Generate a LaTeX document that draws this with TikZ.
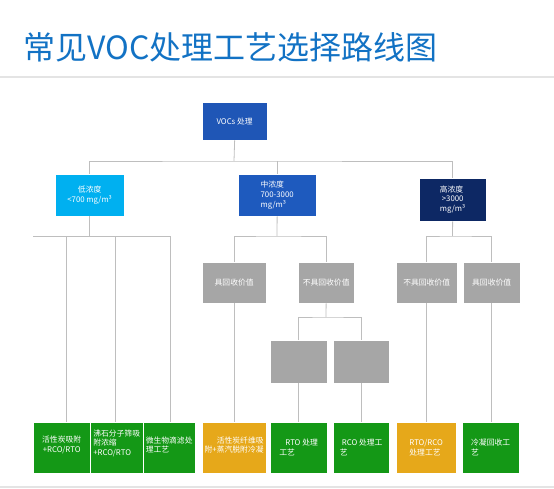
\documentclass[tikz,border=0pt]{standalone}
\usepackage{fontspec}
\newfontfamily\cjk{Noto Sans CJK SC}
\definecolor{titleblue}{RGB}{18,114,196}
\definecolor{topblue}{RGB}{31,86,182}
\definecolor{lowblue}{RGB}{0,176,240}
\definecolor{midblue}{RGB}{30,90,190}
\definecolor{highblue}{RGB}{13,40,100}
\definecolor{boxgrey}{RGB}{166,166,166}
\definecolor{procgreen}{RGB}{20,152,22}
\definecolor{procorange}{RGB}{230,168,26}
\definecolor{linegrey}{RGB}{190,190,190}
\definecolor{sepgrey}{RGB}{228,228,228}
\begin{document}
\begin{tikzpicture}
[x=1pt,y=-1pt,
box/.style={anchor=north west,inner sep=1pt,text=white,draw=white,line width=0.3pt,
  font=\cjk\fontsize{7.8}{9.8}\selectfont},
grey/.style={box,fill=boxgrey,align=center},
proc/.style={box,fill=procgreen,minimum height=51pt,align=left},
hot/.style={box,fill=procorange,minimum height=51pt},
link/.style={draw=linegrey,line width=0.8pt},
sep/.style={draw=sepgrey,line width=2pt}]
\useasboundingbox (0,0) rectangle (554,489);
%title
\node[anchor=west,inner sep=0pt,text=titleblue,font=\cjk\fontsize{32}{38}\selectfont]
  (title) at (23,47) {常见VOC处理工艺选择路线图};
\draw[sep] (0,77) -- (554,77);
\draw[sep] (0,487) -- (554,487);
%levels
\node[box,fill=topblue,minimum width=65pt,minimum height=38pt] (top) at (202,102) {VOCs 处理};
\node[box,fill=lowblue,minimum width=69pt,minimum height=42pt,align=center] (low) at (55,174)
  {低浓度\\<700 mg/m³};
\node[box,fill=midblue,minimum width=78pt,minimum height=42pt,align=left] (mid) at (238,174)
  {中浓度\\700-3000\\mg/m³};
\node[box,fill=highblue,minimum width=67pt,minimum height=43pt,align=left] (high) at (419,178)
  {高浓度\\\hspace*{2pt}>3000\\mg/m³};
%value
\node[grey,minimum width=64pt,minimum height=41pt] (g1) at (202,262) {具回收价值};
\node[grey,minimum width=56pt,minimum height=41pt] (g2) at (298,262) {不具回收价值};
\node[grey,minimum width=61pt,minimum height=41pt] (g3) at (396,262) {不具回收价值};
\node[grey,minimum width=57pt,minimum height=41pt] (g4) at (463,262) {具回收价值};
\node[grey,minimum width=57pt,minimum height=43pt] (g5) at (270,340) {};
\node[grey,minimum width=56pt,minimum height=43pt] (g6) at (333,340) {};
%processes
\node[proc,minimum width=57pt,align=center,text depth=7pt] (p1) at (33,422) {活性炭吸附\\+RCO/RTO};
\node[proc,minimum width=53pt,text depth=10pt] (p2) at (90,422) {沸石分子筛吸\\附浓缩\\+RCO/RTO};
\node[proc,minimum width=52pt,text depth=6pt] (p3) at (143,422) {微生物滴滤处\\理工艺};
\node[hot,minimum width=64pt,align=right,text depth=6pt] (p4) at (202,422) {活性炭纤维吸\\附+蒸汽脱附冷凝};
\node[proc,minimum width=57pt] (p5) at (270,422) {\hspace*{6pt}RTO 处理\\工艺};
\node[proc,minimum width=56pt] (p6) at (333,422) {\hspace*{2pt}RCO 处理工\\艺};
\node[hot,minimum width=60pt,align=left] (p7) at (396,422) {RTO/RCO\\处理工艺};
\node[proc,minimum width=57pt] (p8) at (462,422) {冷凝回收工\\艺};
%links
\coordinate (j0) at (234,161);
\draw[link] (top.south) -- (j0);
\draw[link] (low.north) |- (j0) -| (high.north);
\draw[link] (mid.north) -- (mid.north |- j0);
%low
\coordinate (j1a) at (33,236);
\coordinate (j1b) at (170,236);
\coordinate (d1) at (66,236);
\coordinate (d2) at (115,236);
\coordinate (d3) at (170,236);
\draw[link] (j1a) -- (j1b);
\draw[link] (low.south) -- (low.south |- j1a);
\foreach \d/\p in {d1/p1,d2/p2,d3/p3}
  \draw[link] (\d) -- (\d |- \p.north);
%mid
\coordinate (j2) at (277,236);
\draw[link] (mid.south) -- (j2);
\draw[link] (g1.north) |- (j2) -| (g2.north);
\coordinate (j3) at (326,317);
\draw[link] (g2.south) -- (j3);
\draw[link] (g5.north) |- (j3) -| (g6.north);
%high
\coordinate (j4) at (452.5,236);
\draw[link] (high.south) -- (j4);
\draw[link] (g3.north) |- (j4) -| (g4.north);
\foreach \a/\b in {g1/p4,g5/p5,g6/p6,g3/p7,g4/p8}
  \draw[link] (\a.south) -- (\a.south |- \b.north);
\end{tikzpicture}
\end{document}
